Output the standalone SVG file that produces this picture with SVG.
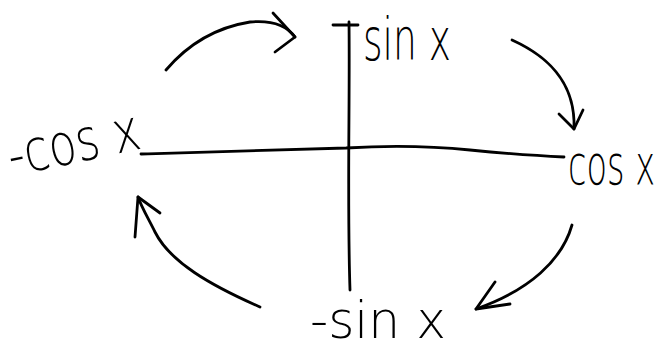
<svg xmlns="http://www.w3.org/2000/svg" width="671" height="350" viewBox="0 0 671 350">
<style>
.s{fill:none;stroke:#000;stroke-width:2.8;stroke-linecap:round;stroke-linejoin:round}
.t{font-family:"DejaVu Sans","Liberation Sans",sans-serif;font-weight:300;fill:#000}
</style>
<rect width="671" height="350" fill="#fff"/>
<g id="axes">
<path class="s" d="M349,22 C350,100 347,200 350,290"/>
<path class="s" d="M333,25 L358,25"/>
<path class="s" d="M141,154 C220,152 300,149 346,148 C380,146 420,145 470,150 C510,154 540,156 564,157"/>
</g>
<g id="node-sinx"><text class="t" x="363" y="60" font-size="58" textLength="88" lengthAdjust="spacingAndGlyphs">sin x</text></g>
<g id="node-negcosx"><text class="t" x="12" y="176" font-size="58" textLength="134" lengthAdjust="spacingAndGlyphs" transform="rotate(-12 12 176)">-cos x</text></g>
<g id="node-cosx"><text class="t" x="0" y="0" font-size="56" transform="translate(568 184) scale(0.6 1)">cos x</text></g>
<g id="node-negsinx"><text class="t" x="310" y="338" font-size="52" textLength="136" lengthAdjust="spacingAndGlyphs">-sin x</text></g>
<g id="connectors">
<path class="s" d="M166,70 Q200,30 250,22 Q282,19 295,37"/>
<path class="s" d="M273,13 L295,37 L275,52"/>
<path class="s" d="M512,40 C545,55 576,80 574,129"/>
<path class="s" d="M559,114 L574,129 L583,110"/>
<path class="s" d="M572,225 C562,260 530,290 476,309"/>
<path class="s" d="M495,282 L476,309 L510,304"/>
<path class="s" d="M260,307 C210,285 170,262 155,232 C148,218 141,206 138,197"/>
<path class="s" d="M135,237 L138,197 L160,213"/>
</g>
</svg>
